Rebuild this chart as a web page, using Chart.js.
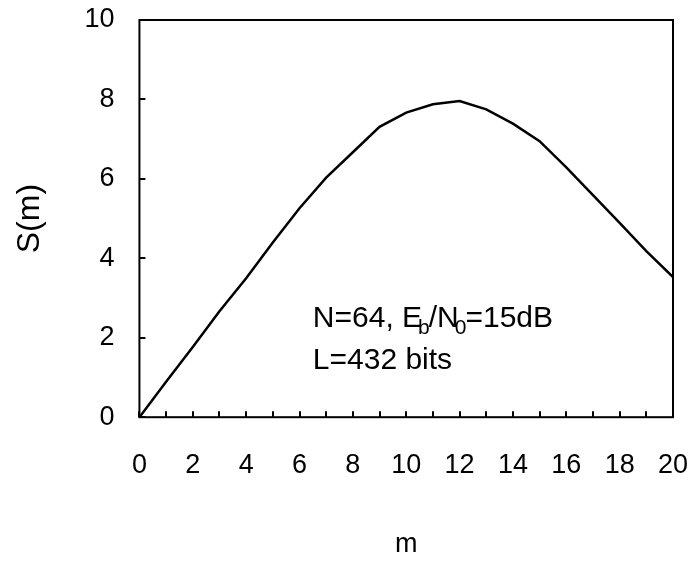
<!DOCTYPE html>
<html>
<head>
<meta charset="utf-8">
<script src="https://cdn.jsdelivr.net/npm/chart.js@4"></script>
<style>
  html, body { margin: 0; padding: 0; background: #fff; }
  #wrap { width: 690px; height: 561px; }
</style>
</head>
<body>
<div id="wrap"><canvas id="myChart" width="690" height="561"></canvas></div>
<script>
// data
var mValues = [0, 1, 2, 3, 4, 5, 6, 7, 8, 9, 10, 11, 12, 13, 14, 15, 16, 17, 18, 19, 20];
var sValues = [0, 0.89, 1.77, 2.67, 3.5, 4.4, 5.26, 6.03, 6.67, 7.31, 7.67, 7.88, 7.96, 7.75, 7.39, 6.95, 6.29, 5.59, 4.89, 4.18, 3.53];
var xTickLabels = [0, 2, 4, 6, 8, 10, 12, 14, 16, 18, 20];
var yTickLabels = [0, 2, 4, 6, 8, 10];
var xMinorTicks = mValues;

var points = mValues.map(function (m, i) { return { x: m, y: sValues[i] }; });

var FONT = "'Liberation Sans', Arial, sans-serif";

// frame, inward tick marks and the text note
var framePlugin = {
    id: 'frame',
    afterDraw: function (chart) {
        var c = chart.ctx, a = chart.chartArea;
        var xs = chart.scales.x, ys = chart.scales.y;
        c.save();
        c.strokeStyle = '#000';
        c.lineWidth = 2;
        c.strokeRect(a.left, a.top, a.right - a.left, a.bottom - a.top);
        c.beginPath();
        xMinorTicks.forEach(function (v) {
            var px = Math.round(xs.getPixelForValue(v));
            c.moveTo(px, a.bottom);
            c.lineTo(px, a.bottom - 6);
        });
        yTickLabels.forEach(function (v) {
            var py = Math.round(ys.getPixelForValue(v));
            c.moveTo(a.left, py);
            c.lineTo(a.left + 6, py);
        });
        c.stroke();

        // annotation
        c.fillStyle = '#000';
        c.textBaseline = 'alphabetic';
        c.textAlign = 'left';
        var big = '30px ' + FONT, small = '21px ' + FONT;
        var x0 = xs.getPixelForValue(6.5);
        var y1 = ys.getPixelForValue(2.54) + 11;
        var y2 = ys.getPixelForValue(1.5) + 11;
        var parts = [['N=64, E', big, 0], ['b', small, 7], ['/N', big, 0], ['0', small, 7], ['=15dB', big, 0]];
        var x = x0;
        parts.forEach(function (p) {
            c.font = p[1];
            if (p[2]) x -= 4;
            c.fillText(p[0], x, y1 + p[2]);
            x += c.measureText(p[0]).width;
            if (p[2]) x -= 1;
        });
        c.font = big;
        c.fillText('L=432 bits', x0, y2);
        c.restore();
    }
};

var ctx = document.getElementById('myChart').getContext('2d');
var chart1 = new Chart(ctx, {
    type: 'line',
    data: {
        datasets: [{
            label: 'S(m)',
            data: points,
            borderColor: '#000',
            backgroundColor: '#000',
            borderWidth: 2.5,
            pointRadius: 0,
            tension: 0,
            fill: false
        }]
    },
    options: {
        responsive: false,
        animation: false,
        layout: { padding: { top: 20, right: 17, left: 0, bottom: 0 } },
        plugins: {
            legend: { display: false },
            tooltip: { enabled: false }
        },
        scales: {
            x: {
                type: 'linear',
                min: 0,
                max: 20,
                // tickLength only spaces the labels, the marks are drawn by the plugin
                grid: { display: false, drawTicks: true, tickLength: 32 },
                border: { display: false },
                afterBuildTicks: function (axis) {
                    axis.ticks = xTickLabels.map(function (v) { return { value: v }; });
                },
                ticks: { color: '#000', padding: 0, maxRotation: 0, font: { family: FONT, size: 27 } },
                title: {
                    display: true, text: 'm', color: '#000',
                    font: { family: FONT, size: 27 },
                    padding: { top: 47, bottom: 0 }
                }
            },
            y: {
                min: 0,
                max: 10,
                grid: { display: false, drawTicks: true, tickLength: 25 },
                border: { display: false },
                afterBuildTicks: function (axis) {
                    axis.ticks = yTickLabels.map(function (v) { return { value: v }; });
                },
                ticks: { color: '#000', padding: 0, font: { family: FONT, size: 27 } },
                title: {
                    display: true, text: 'S(m)', color: '#000',
                    font: { family: FONT, size: 32 },
                    padding: { top: 11, bottom: 35 }
                }
            }
        }
    },
    plugins: [framePlugin]
});
</script>
</body>
</html>
